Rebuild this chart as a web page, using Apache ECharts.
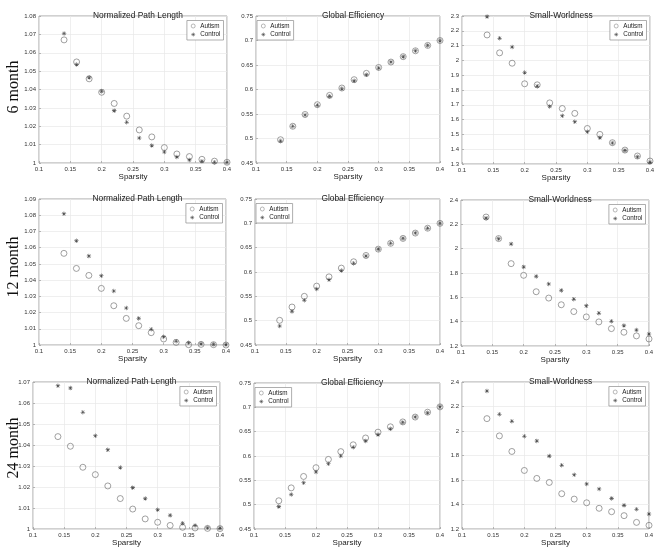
<!DOCTYPE html>
<html>
<head>
<meta charset="utf-8">
<script src="https://cdn.jsdelivr.net/npm/echarts@6/dist/echarts.min.js"></script>
<style>html,body{margin:0;padding:0;background:#fff;}#c{width:666px;height:554px;}</style>
</head>
<body>
<div id="c"></div>
<script>
// ---- data ----
const sparsity = [0.14,0.16,0.18,0.20,0.22,0.24,0.26,0.28,0.30,0.32,0.34,0.36,0.38,0.40];
const xTicks = [0.1,0.15,0.2,0.25,0.3,0.35,0.4];
const rowLabels = ['6 month','12 month','24 month'];
const panelTitles = ['Normalized Path Length','Global Efficiency','Small-Worldness'];
const seriesNames = ['Autism','Control'];

const npl6Autism  = [1.067,1.055,1.0458,1.0385,1.0324,1.0255,1.018,1.0142,1.0084,1.0049,1.0035,1.002,1.001,1.0004];
const npl6Control = [1.0705,1.0536,1.0465,1.039,1.0285,1.0222,1.0136,1.0095,1.006,1.0033,1.0016,1.0009,1.0004,1.0003];
const ge6Autism   = [0.4975,0.525,0.549,0.569,0.588,0.603,0.620,0.633,0.645,0.656,0.667,0.679,0.690,0.700];
const ge6Control  = [0.495,0.525,0.548,0.568,0.586,0.602,0.618,0.630,0.644,0.656,0.667,0.679,0.690,0.700];
const sw6Autism   = [2.172,2.051,1.981,1.842,1.835,1.713,1.675,1.642,1.540,1.500,1.444,1.394,1.354,1.320];
const sw6Control  = [2.296,2.150,2.091,1.918,1.826,1.689,1.626,1.585,1.518,1.478,1.442,1.392,1.349,1.311];

const npl12Autism  = [1.0565,1.0472,1.0429,1.0349,1.0242,1.0164,1.0119,1.0076,1.0037,1.0016,1.0002,1.0004,1.0002,1.0000];
const npl12Control = [1.0809,1.0643,1.0548,1.0427,1.0333,1.0228,1.0164,1.0097,1.0051,1.0023,1.0014,1.0008,1.0004,1.0002];
const ge12Autism   = [0.5007,0.528,0.550,0.571,0.590,0.608,0.621,0.634,0.647,0.659,0.669,0.680,0.690,0.700];
const ge12Control  = [0.489,0.519,0.542,0.565,0.584,0.603,0.618,0.633,0.647,0.659,0.669,0.680,0.690,0.700];
const sw12Autism   = [2.260,2.083,1.877,1.781,1.646,1.594,1.539,1.483,1.439,1.398,1.343,1.313,1.283,1.258];
const sw12Control  = [2.251,2.081,2.039,1.850,1.772,1.709,1.657,1.585,1.530,1.470,1.404,1.368,1.332,1.299];

const npl24Autism  = [1.044,1.0394,1.0294,1.0259,1.0205,1.0145,1.0095,1.0048,1.0032,1.0017,1.0008,1.0005,1.0003,1.0002];
const npl24Control = [1.0682,1.0671,1.0556,1.0444,1.0377,1.0293,1.0197,1.0145,1.0092,1.0065,1.0027,1.0017,1.0006,1.0003];
const ge24Autism   = [0.508,0.5345,0.558,0.576,0.593,0.609,0.623,0.637,0.649,0.660,0.670,0.680,0.690,0.701];
const ge24Control  = [0.496,0.521,0.545,0.567,0.584,0.600,0.618,0.631,0.644,0.656,0.669,0.680,0.689,0.701];
const sw24Autism   = [2.101,1.960,1.833,1.678,1.613,1.580,1.488,1.444,1.414,1.369,1.341,1.309,1.254,1.230];
const sw24Control  = [2.327,2.137,2.080,1.957,1.919,1.795,1.721,1.643,1.567,1.526,1.450,1.393,1.361,1.323];

// y-axis tick ranges per panel [min, max, interval]
const yRanges = [
  [1, 1.08, 0.01], [0.45, 0.75, 0.05], [1.3, 2.3, 0.1],
  [1, 1.09, 0.01], [0.45, 0.75, 0.05], [1.2, 2.4, 0.2],
  [1, 1.07, 0.01], [0.45, 0.75, 0.05], [1.2, 2.4, 0.2]
];
const panelData = [
  [npl6Autism, npl6Control], [ge6Autism, ge6Control], [sw6Autism, sw6Control],
  [npl12Autism, npl12Control], [ge12Autism, ge12Control], [sw12Autism, sw12Control],
  [npl24Autism, npl24Control], [ge24Autism, ge24Control], [sw24Autism, sw24Control]
];

// ---- layout (pixels) ----
const boxes = [ // [left, top, right, bottom]
  [39,16,227,163],[256,16,440,163],[462,16,650,164],
  [39,199,226,345],[255,199,440,345],[461,200,649,346],
  [33,382,220,529],[254,383,440,529],[462,382,649,529]
];
const rowLabelY = [87, 267, 448];

const FONT = '"Liberation Sans", Arial, sans-serif';
const asterisk = 'path://M4.4,0L5.6,0L5.6,10L4.4,10Z M0,4.4L10,4.4L10,5.6L0,5.6Z M1,1.85L1.85,1L9,8.15L8.15,9Z M8.15,1L9,1.85L1.85,9L1,8.15Z';
const circleColor = '#6b6b6b', starColor = '#2b2b2b';

const grids = [], xAxes = [], yAxes = [], series = [], titles = [], legends = [];
const W = 666;
boxes.forEach((b, i) => {
  const [l, t, r, btm] = b;
  grids.push({left: l, top: t, width: r - l, height: btm - t, show: true,
    borderColor: '#8c8c8c', borderWidth: 0.8, backgroundColor: '#fff', containLabel: false});
  xAxes.push({type: 'value', gridIndex: i, min: 0.1, max: 0.4, interval: 0.05,
    name: 'Sparsity', nameLocation: 'middle', nameGap: 10,
    nameTextStyle: {fontFamily: FONT, fontSize: 8, color: '#222'},
    axisLine: {show: false},
    axisTick: {show: true, inside: true, length: 2, lineStyle: {color: '#8c8c8c', width: 0.6}},
    axisLabel: {fontFamily: FONT, fontSize: 6, color: '#333', margin: 3},
    splitLine: {show: true, lineStyle: {color: '#e8e8e8', width: 0.7}}});
  const yr = yRanges[i];
  yAxes.push({type: 'value', gridIndex: i, min: yr[0], max: yr[1], interval: yr[2],
    axisLine: {show: false},
    axisTick: {show: true, inside: true, length: 2, lineStyle: {color: '#8c8c8c', width: 0.6}},
    axisLabel: {fontFamily: FONT, fontSize: 6, color: '#333', margin: 3},
    splitLine: {show: true, lineStyle: {color: '#e8e8e8', width: 0.7}}});
  titles.push({text: panelTitles[i % 3], left: (l + r) / 2, top: t - 9.5, textAlign: 'center',
    textStyle: {fontFamily: FONT, fontSize: 8.4, fontWeight: 'normal', color: '#222'}});
  const d = panelData[i];
  series.push({type: 'scatter', name: seriesNames[0], xAxisIndex: i, yAxisIndex: i, clip: false,
    data: sparsity.map((x, k) => [x, d[0][k]]), symbol: 'circle', symbolSize: 6,
    itemStyle: {color: 'rgba(255,255,255,0)', borderColor: circleColor, borderWidth: 0.8}, z: 3});
  series.push({type: 'scatter', name: seriesNames[1], xAxisIndex: i, yAxisIndex: i, clip: false,
    data: sparsity.map((x, k) => [x, d[1][k]]), symbol: asterisk, symbolSize: 4.5,
    itemStyle: {color: starColor}, z: 4});
  const leg = {orient: 'vertical', top: t + 4.5,
    data: [
      {name: seriesNames[0], icon: 'circle', itemStyle: {color: '#fff', borderColor: circleColor, borderWidth: 0.6}},
      {name: seriesNames[1], icon: asterisk, itemStyle: {color: starColor, borderWidth: 0}}
    ],
    itemWidth: 4, itemHeight: 4, itemGap: 1.5, padding: [2, 3, 2, 4],
    backgroundColor: '#fff', borderColor: '#8c8c8c', borderWidth: 0.7, borderRadius: 0,
    selectedMode: false,
    textStyle: {fontFamily: FONT, fontSize: 6.3, color: '#222', lineHeight: 7}};
  if (i % 3 === 1) leg.left = l + 1; else leg.right = W - r + 3.5;
  legends.push(leg);
});

const graphics = rowLabels.map((s, k) => ({type: 'text', x: 14, y: rowLabelY[k], rotation: Math.PI / 2,
  style: {text: s, font: '16px "Liberation Serif", "Times New Roman", serif', fill: '#111',
    textAlign: 'center', textVerticalAlign: 'middle'}}));

const chart = echarts.init(document.getElementById('c'), null, {renderer: 'canvas'});
chart.setOption({animation: false, backgroundColor: '#fff', title: titles, legend: legends,
  grid: grids, xAxis: xAxes, yAxis: yAxes, series: series, graphic: graphics});
</script>
</body>
</html>
